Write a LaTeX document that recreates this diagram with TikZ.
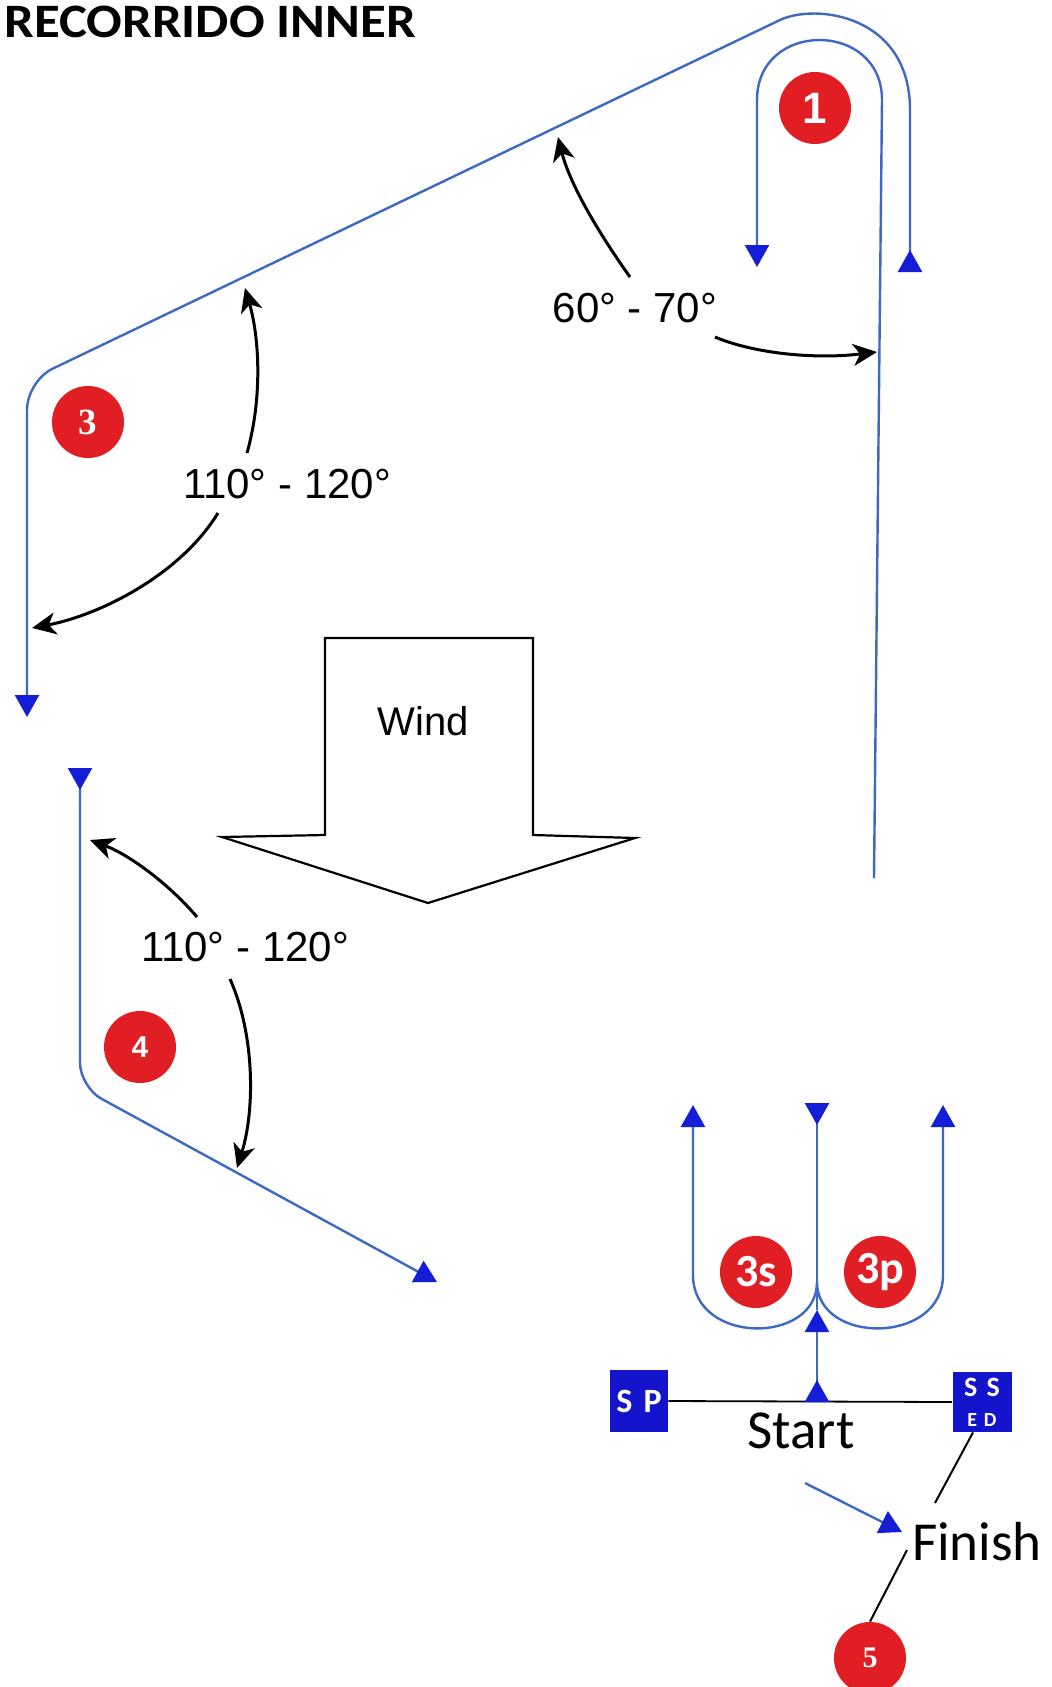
\documentclass[tikz,border=0pt]{standalone}
\usepackage{graphicx}
\usepackage{fontspec}
\setmainfont{Liberation Sans}
\newfontfamily\calfont{Carlito}
\newfontfamily\arialfont{Liberation Sans}
\newfontfamily\timesfont{Liberation Serif}
\usetikzlibrary{arrows.meta,calc}
\definecolor{crsblue}{RGB}{60,105,195}
\definecolor{tipblue}{RGB}{20,30,215}
\definecolor{boxblue}{RGB}{20,20,205}
\definecolor{mkred}{RGB}{225,30,35}
\tikzset{
  BT/.tip={Triangle[width=12pt,length=11pt,color=tipblue]},
  BTr/.tip={Triangle[width=12pt,length=11pt,color=tipblue,reversed]},
  KT/.tip={Stealth[length=12pt,width=11pt,inset=3.5pt]},
  course/.style={draw=crsblue,line width=1.2pt},
  anglearc/.style={draw=black,line width=1.5pt,-{KT}},
  anglelbl/.style={inner sep=0pt,anchor=base,font=\arialfont\fontsize{21}{24}\selectfont},
  redmark/.style={circle,fill=mkred,minimum size=36pt,inner sep=0pt,text=white},
  boxmark/.style={fill=boxblue,inner sep=0pt,text=white,font=\calfont\bfseries},
  bigword/.style={inner sep=0pt,anchor=base,font=\calfont\fontsize{27.5}{30}\selectfont},
}
\begin{document}
\begin{tikzpicture}[x=0.5pt,y=-0.5pt]
\fill[white] (0,0) rectangle (1051,1687);
\useasboundingbox (0,0) rectangle (1051,1687);

% title
\node[inner sep=0pt,anchor=base west,font=\calfont\bfseries\fontsize{24}{28}\selectfont] (title) at (4,37) {\scalebox{1.1}[1]{RECORRIDO INNER}};

% course points
\coordinate (o1) at (910,272);
\coordinate (o2) at (910,110);
\coordinate (o3) at (780,20);
\coordinate (o4) at (52,369);
\coordinate (o5) at (27,410);
\coordinate (o6) at (27,717);

\coordinate (i1) at (874,878);
\coordinate (i2) at (882,100);
\coordinate (i3) at (757,100);
\coordinate (i4) at (757,267);

\coordinate (d1) at (80,768);
\coordinate (d2) at (80,1063);
\coordinate (d3) at (101,1098.5);
\coordinate (d4) at (437,1282);

% outer loop around mark 1, along the beat to mark 3 and down
\draw[course,{BTr}-{BT}] (o1) -- (o2) .. controls (910,15) and (816,3) .. (o3) -- (o4)
  .. controls (38,376) and (27,394) .. (o5) -- (o6);
% inner loop around mark 1
\draw[course,-{BT}] (i1) -- (i2) .. controls (882,20) and (757,20) .. (i3) -- (i4);
% leg to mark 4 and beyond
\draw[course,{BTr}-{BT}] (d1) -- (d2) .. controls (80,1076) and (89.7,1092.3) .. (d3) -- (d4);

% marks
\node[redmark,font=\arialfont\bfseries\fontsize{22}{22}\selectfont] (c1) at (815,108) {1};
\node[redmark,font=\timesfont\bfseries\fontsize{18.5}{18.5}\selectfont] (c3) at (88,422) {3};
\node[redmark,font=\arialfont\bfseries\fontsize{15}{15}\selectfont] (c4) at (140,1047) {4};
\node[redmark,font=\calfont\bfseries\fontsize{23}{23}\selectfont] (c3s) at (756,1272) {3s};
\node[redmark,font=\calfont\bfseries\fontsize{23}{23}\selectfont] (c3p) at (880,1272) {3p};
\node[redmark,font=\timesfont\bfseries\fontsize{15}{15}\selectfont] (c5) at (870,1658) {5};

% angle labels
\node[anglelbl] (l1) at (287,498) {110° - 120°};
\node[anglelbl] (l2) at (635,322) {60° - 70°};
\node[anglelbl] (l3) at (245,961) {110° - 120°};

% angle arcs
\draw[anglearc] (247,453) .. controls (262,400) and (260,340) .. (245,288);
\draw[anglearc] (218,513) .. controls (180,575) and (100,615) .. (32,628);
\draw[anglearc] (630,277) .. controls (600,235) and (570,185) .. (558,137);
\draw[anglearc] (715,337) .. controls (750,352) and (810,360) .. (877,352);
\draw[anglearc] (197,917) .. controls (170,885) and (130,855) .. (90,840);
\draw[anglearc] (230,979) .. controls (255,1035) and (255,1110) .. (237,1168);

% wind arrow
\draw[black,line width=1.1pt,line join=miter] (325,835) -- (325,638) -- (533,638) -- (533,835)
  -- (635,838) -- (428,903) -- (222,837) -- cycle;
\node[inner sep=0pt,anchor=base,font=\arialfont\fontsize{20}{22}\selectfont] (wind) at (423,735) {Wind};

% start area
\node[boxmark,minimum width=29pt,minimum height=31pt,font=\calfont\bfseries\fontsize{17}{17}\selectfont] (sp) at (639,1401) {S\,\,P};
\node[boxmark,minimum width=29.5pt,minimum height=30pt,align=center,font=\calfont\bfseries\fontsize{14}{14}\selectfont] (ss) at (982,1402) {S\,\,S\\[1pt]{\fontsize{10}{10}\selectfont E\,\,D}};
\draw[black,line width=0.9pt] (sp.east) -- (ss.west);
\node[bigword] (start) at (801,1448) {Start};
\node[bigword] (finish) at (977,1560) {Finish};

\coordinate (sl) at (817,1402);
\coordinate (j1) at (817,1310);
\coordinate (j0) at (817,1282);
\coordinate (top3) at (817,1103);
\draw[course,{BTr}-{BT}] (sl) -- (j1);
\draw[course] (j1) -- (j0);
\draw[course,{BTr}-] (top3) -- (j0);
\draw[course,-{BT}] (j0) .. controls (817,1345) and (693,1345) .. (693,1275) -- (693,1105);
\draw[course,-{BT}] (j0) .. controls (817,1345) and (943,1345) .. (943,1275) -- (943,1105);

% finish
\coordinate (fa) at (805,1483);
\coordinate (fb) at (902,1532);
\draw[course,-{BT}] (fa) -- (fb);
\draw[black,line width=1pt] ($(ss.south)+(-9,0)$) -- (935,1503);
\draw[black,line width=1pt] (907,1550) -- (c5.north);
\end{tikzpicture}
\end{document}
